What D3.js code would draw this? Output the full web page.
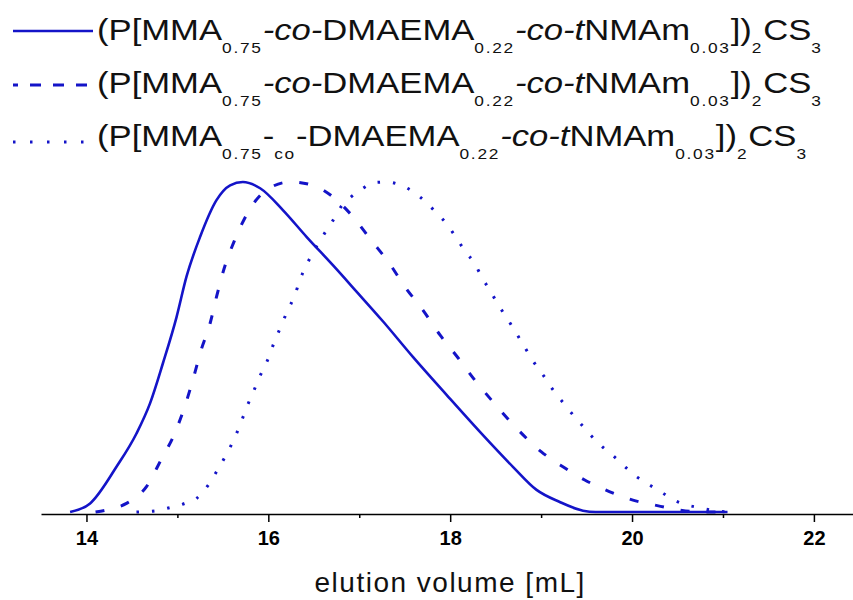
<!DOCTYPE html>
<html>
<head>
<meta charset="utf-8">
<script src="https://cdn.jsdelivr.net/npm/d3@7"></script>
<style>
  body { margin: 0; background: #fff; }
  svg { display: block; font-family: "Liberation Sans", Arial, sans-serif; }
</style>
</head>
<body>
<svg width="853" height="600"></svg>
<script>
"use strict";

// elution volume [mL] and normalised detector signal
const solidV = [13.82, 14.04, 14.33, 14.55, 14.70, 14.84, 14.99, 15.10, 15.25, 15.43, 15.58, 15.72, 15.91, 16.16, 16.42, 16.71, 16.97, 17.26, 17.59, 17.96, 18.33, 18.69, 18.95, 19.20, 19.46, 19.60, 21.05]
const solidH = [0, 0.026, 0.137, 0.238, 0.33, 0.45, 0.59, 0.713, 0.834, 0.945, 0.99, 1.0, 0.981, 0.915, 0.834, 0.748, 0.668, 0.578, 0.47, 0.355, 0.242, 0.137, 0.067, 0.031, 0.004, 0, 0]

const dashV = [14.10, 14.25, 14.44, 14.66, 14.82, 14.97, 15.08, 15.17, 15.26, 15.36, 15.43, 15.52, 15.63, 15.78, 15.98, 16.24, 16.49, 16.71, 16.93, 17.13, 17.33, 17.50, 17.70, 17.89, 18.09, 18.27, 18.47, 18.73, 19.00, 19.24, 19.48, 19.75, 20.01, 20.25, 20.52, 20.75, 21.0]
const dashH = [0, 0.008, 0.026, 0.077, 0.158, 0.238, 0.319, 0.4, 0.49, 0.572, 0.652, 0.743, 0.824, 0.91, 0.976, 1.0, 0.99, 0.955, 0.895, 0.824, 0.754, 0.683, 0.612, 0.536, 0.466, 0.4, 0.334, 0.254, 0.183, 0.137, 0.097, 0.062, 0.036, 0.021, 0.006, 0, 0]

const dotV = [14.55, 14.75, 14.87, 15.08, 15.21, 15.34, 15.43, 15.53, 15.61, 15.69, 15.76, 15.84, 15.91, 15.99, 16.06, 16.13, 16.21, 16.29, 16.35, 16.43, 16.62, 16.71, 16.80, 16.91, 17.04, 17.16, 17.30, 17.46, 17.59, 17.74, 17.83, 17.95, 18.06, 18.15, 18.27, 18.35, 18.45, 18.55, 18.66, 18.74, 18.84, 18.92, 19.03, 19.10, 19.22, 19.30, 19.44, 19.55, 19.66, 19.81, 19.93, 20.06, 20.21, 20.34, 20.46, 20.58, 20.74, 20.87, 21.05]
const dotH = [0, 0.003, 0.01, 0.026, 0.041, 0.082, 0.122, 0.17, 0.213, 0.264, 0.316, 0.367, 0.413, 0.459, 0.511, 0.557, 0.609, 0.656, 0.705, 0.754, 0.845, 0.883, 0.925, 0.955, 0.981, 0.998, 1.0, 0.99, 0.971, 0.937, 0.912, 0.877, 0.834, 0.796, 0.752, 0.711, 0.665, 0.619, 0.572, 0.536, 0.49, 0.454, 0.412, 0.382, 0.339, 0.311, 0.266, 0.231, 0.201, 0.166, 0.135, 0.105, 0.079, 0.057, 0.036, 0.023, 0.013, 0.006, 0]

const majorTicks = [14, 16, 18, 20, 22]
const minorTicks = [15, 17, 19, 21]
const xTitle = "elution volume [mL]"

// legend labels as pieces: n = normal, i = italic, s = subscript
const legendLabels = [
	[["(P[MMA", "n"], ["0.75", "s"], ["-co-", "i"], ["DMAEMA", "n"], ["0.22", "s"], ["-co-t", "i"], ["NMAm", "n"], ["0.03", "s"], ["])", "n"], ["2", "s"], ["CS", "n"], ["3", "s"]],
	[["(P[MMA", "n"], ["0.75", "s"], ["-co-", "i"], ["DMAEMA", "n"], ["0.22", "s"], ["-co-t", "i"], ["NMAm", "n"], ["0.03", "s"], ["])", "n"], ["2", "s"], ["CS", "n"], ["3", "s"]],
	[["(P[MMA", "n"], ["0.75", "s"], ["-", "n"], ["co", "s"], ["-DMAEMA", "n"], ["0.22", "s"], ["-co-t", "i"], ["NMAm", "n"], ["0.03", "s"], ["])", "n"], ["2", "s"], ["CS", "n"], ["3", "s"]]
]

const blue = "#1414c8"
const styles = [
	{ dash: null, width: 2.6 },
	{ dash: "9,17", width: 3 },
	{ dash: "2.5,13", width: 3 }
]

const series = [
	d3.zip(solidV, solidH),
	d3.zip(dashV, dashH),
	d3.zip(dotV, dotH)
]

const svg = d3.select("svg")

const x = d3.scaleLinear().domain([13.5, 22.43]).range([41, 853])
const y = d3.scaleLinear().domain([0, 1]).range([512, 182])

const line = d3.line()
	.x(d => x(d[0]))
	.y(d => y(d[1]))
	.curve(d3.curveMonotoneX)

svg.selectAll("path.curve")
	.data(series)
	.enter()
	.append("path")
	.attr("class", "curve")
	.attr("d", line)
	.attr("fill", "none")
	.attr("stroke", blue)
	.attr("stroke-width", (d, i) => styles[i].width)
	.attr("stroke-dasharray", (d, i) => styles[i].dash)

// x axis: major ticks labelled, minor ones short
const axisY = 514
const gx = svg.append("g").attr("transform", `translate(0,${axisY})`)
gx.call(d3.axisBottom(x).tickValues(majorTicks).tickSize(8).tickSizeOuter(0).tickPadding(9))
gx.append("g").call(d3.axisBottom(x).tickValues(minorTicks).tickSize(4).tickFormat(""))
	.select(".domain").remove()
gx.selectAll("path, line").attr("stroke", "#000").attr("stroke-width", 1.5)
gx.selectAll("text")
	.attr("fill", "#000")
	.attr("font-size", 20)
	.attr("font-weight", "bold")
	.attr("font-family", "'Liberation Sans', Arial, sans-serif")

svg.append("text")
	.attr("x", x(18))
	.attr("y", 592)
	.attr("text-anchor", "middle")
	.attr("font-size", 28)
	.attr("letter-spacing", 1.5)
	.attr("fill", "#111")
	.text(xTitle)

// legend
const rowBase = [40, 93, 146]
const sampleY = [31, 85, 142]
const legend = svg.append("g")
legendLabels.forEach((parts, i) => {
	legend.append("line")
		.attr("x1", 13).attr("x2", 93)
		.attr("y1", sampleY[i]).attr("y2", sampleY[i])
		.attr("stroke", blue)
		.attr("stroke-width", i == 0 ? 2.6 : 3)
		.attr("stroke-dasharray", i == 0 ? null : (i == 1 ? "11,12" : "2.5,14.5"))
		.attr("stroke-dashoffset", i == 1 ? 6 : 0)

	const t = legend.append("text")
		.attr("x", 0)
		.attr("y", 0)
		.attr("font-size", 30)
		.attr("fill", "#111")
	let down = false
	parts.forEach(p => {
		const ts = t.append("tspan").text(p[0])
		if (p[1] == "s") {
			ts.attr("font-size", 15).attr("letter-spacing", 1.5).attr("dy", down ? 0 : 13)
			down = true
		} else {
			if (down) ts.attr("dy", -13)
			down = false
			if (p[1] == "i") ts.attr("font-style", "italic")
		}
	})
})

// the picture is stretched sideways, fit the first row to its width
const rows = legend.selectAll("text").nodes()
const sx = 726 / rows[0].getBBox().width
rows.forEach((n, i) => {
	d3.select(n).attr("transform", `translate(97,${rowBase[i]}) scale(${sx},1)`)
})
</script>
</body>
</html>
